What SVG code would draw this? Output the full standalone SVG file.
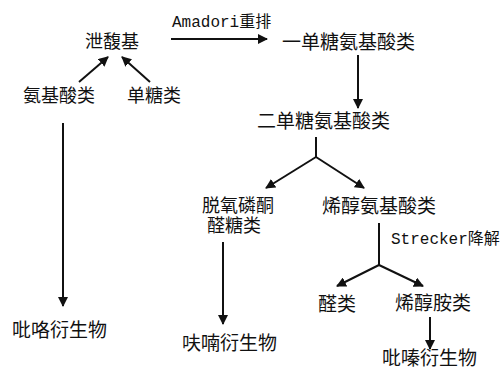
<svg xmlns="http://www.w3.org/2000/svg" width="500" height="369" viewBox="0 0 500 369">
<style>
.t{font-family:"Noto Sans CJK SC","Noto Sans CJK TC",sans-serif;font-size:19px;fill:#111}
.s{font-size:18px}
.m{font-family:"Liberation Mono","Noto Sans CJK SC",monospace;font-size:16px;fill:#111}
.c line{stroke:#111;stroke-width:2;fill:none}
</style>
<defs>
<marker id="a" viewBox="0 0 10 10" refX="9" refY="5" markerWidth="5" markerHeight="5" orient="auto" markerUnits="strokeWidth">
<path d="M0,0 L10,5 L0,10 z" fill="#111"/>
</marker>
</defs>
<rect width="500" height="369" fill="#fff"/>
<g class="c">
<line x1="171" y1="39" x2="267" y2="39" marker-end="url(#a)"/>
<line x1="358" y1="55" x2="358" y2="108" marker-end="url(#a)"/>
<line x1="79" y1="82" x2="108" y2="57" marker-end="url(#a)"/>
<line x1="150" y1="82" x2="122" y2="57" marker-end="url(#a)"/>
<line x1="63" y1="123" x2="63" y2="306" marker-end="url(#a)"/>
<line x1="316" y1="137" x2="316" y2="157"/>
<line x1="316" y1="157" x2="266" y2="188" marker-end="url(#a)"/>
<line x1="316" y1="157" x2="364" y2="188" marker-end="url(#a)"/>
<line x1="223" y1="242" x2="223" y2="324" marker-end="url(#a)"/>
<line x1="379" y1="223" x2="379" y2="265"/>
<line x1="379" y1="265" x2="337" y2="286" marker-end="url(#a)"/>
<line x1="379" y1="265" x2="423" y2="286" marker-end="url(#a)"/>
<line x1="430" y1="317" x2="430" y2="349" marker-end="url(#a)"/>
</g>
<g id="n1"><text class="t s" x="85" y="48">泄馥基</text></g>
<g id="lbl1"><text class="m" x="172" y="27">Amadori重排</text></g>
<g id="n2"><text class="t" x="282" y="49">一单糖氨基酸类</text></g>
<g id="n3"><text class="t s" x="23" y="102">氨基酸类</text></g>
<g id="n4"><text class="t s" x="127" y="102">单糖类</text></g>
<g id="n5"><text class="t" x="257" y="128">二单糖氨基酸类</text></g>
<g id="n6"><text class="t s"><tspan x="202" y="212">脱氧磷酮</tspan><tspan x="207" y="232">醛糖类</tspan></text></g>
<g id="n7"><text class="t" x="322" y="213">烯醇氨基酸类</text></g>
<g id="lbl2"><text class="m" x="391" y="244">Strecker降解</text></g>
<g id="n8"><text class="t" x="12" y="337">吡咯衍生物</text></g>
<g id="n9"><text class="t" x="182" y="350">呋喃衍生物</text></g>
<g id="n10"><text class="t" x="318" y="311">醛类</text></g>
<g id="n11"><text class="t" x="395" y="310">烯醇胺类</text></g>
<g id="n12"><text class="t" x="382" y="365">吡嗪衍生物</text></g>
</svg>
